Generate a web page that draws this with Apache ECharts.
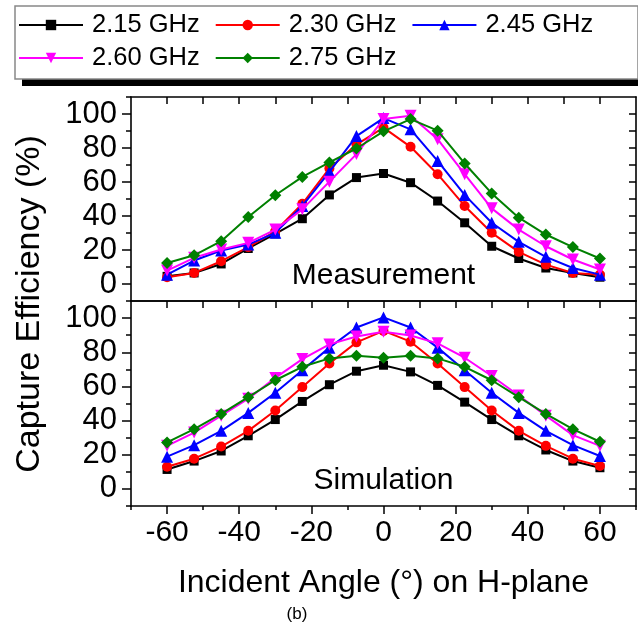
<!DOCTYPE html>
<html>
<head>
<meta charset="utf-8">
<script src="https://cdn.jsdelivr.net/npm/echarts@6/dist/echarts.min.js"></script>
<style>
html,body{margin:0;padding:0;background:#fff;}
#chart{width:638px;height:625px;}
</style>
</head>
<body>
<div id="chart"></div>
<script>
// ---- data ----
const angles = [-60,-52.5,-45,-37.5,-30,-22.5,-15,-7.5,0,7.5,15,22.5,30,37.5,45,52.5,60];
const seriesNames = ['2.15 GHz','2.30 GHz','2.45 GHz','2.60 GHz','2.75 GHz'];
const meas215 = [4.5,6.5,11.8,20.9,29.5,38.4,52.4,62.6,65,59.6,48.8,36,22.2,15,9.4,6.5,4];
const meas230 = [4,6.5,13.4,21.7,31,47.2,68,82,92,80.7,64.6,45.9,30.1,18.9,11.4,6.5,5.5];
const meas245 = [5.5,13.8,19.7,23.2,30.1,45.9,66,87,97.6,91,72.4,52.4,36,24.8,16,9.4,5.5];
const meas260 = [7.9,15.4,20.3,24.2,32,43.9,60.2,76.4,97,99,85.2,64.6,44.5,32,22.2,14.4,8.5];
const meas275 = [12.4,16.9,25.2,39.4,52.2,63,71.5,79.7,89.8,97,90.2,70.9,53.3,39,29.1,21.7,15];
const sim215 = [11.4,16.3,22.2,31.1,40.6,51.2,61,68.9,72.4,68.5,60.6,50.8,40.6,31.1,22.8,16.3,12.4];
const sim230 = [13,17.7,24.8,34,45.9,59.6,73.4,85.8,92.5,86.2,73.4,59.6,45.9,34,25.2,17.7,13.4];
const sim245 = [18.9,25.6,34,44.5,56.3,69.5,82.7,94.5,100.4,94.5,82.7,69.5,56.3,44.5,34,25.6,19.3];
const sim260 = [25.2,33,42.9,52.8,65,76,84.6,89.2,92,89.8,85.2,76.8,66.1,54.7,42.9,31.5,25.2];
const sim275 = [27.2,35,43.9,53.7,63.6,71.5,76.4,78,76.8,78,76.4,71.5,63.6,53.7,43.9,35,27.6];
const xMajorTicks = [-60,-40,-20,0,20,40,60];
const xMinorTicks = [-70,-50,-30,-10,10,30,50,70];
const xTopTicks = [-60,-50,-40,-30,-20,-10,0,10,20,30,40,50,60];
const yMajorTicks = [0,20,40,60,80,100];
const yMinorTicks = [-10,10,30,50,70,90,110];
const yRightTicks = [0,10,20,30,40,50,60,70,80,90,100];

const measSets = [meas215,meas230,meas245,meas260,meas275];
const simSets = [sim215,sim230,sim245,sim260,sim275];
const colors = ['#000000','#ff0000','#0000ff','#ff00ff','#008000'];
const symbols = ['rect','circle','triangle','triangle','diamond'];
const symRot = [0,0,0,180,0];
const symSizes = [9,10,12,12,12];

const FONT = "'Liberation Sans', Arial, sans-serif";
const BLACK = '#000';

function makeSeries(values, i, xIdx, yIdx, extra){
  const s = {
    name: seriesNames[i],
    type: 'line',
    xAxisIndex: xIdx,
    yAxisIndex: yIdx,
    data: angles.map((a,k)=>[a, values[k]]),
    symbol: symbols[i],
    symbolRotate: symRot[i],
    symbolSize: symSizes[i],
    showAllSymbol: true,
    lineStyle: {color: colors[i], width: 2},
    itemStyle: {color: colors[i]},
    emphasis: {disabled: true},
    animation: false,
    z: 3 + i
  };
  return Object.assign(s, extra || {});
}

function textMark(txt){
  return {
    symbolSize: 0,
    silent: true,
    label: {show: true, position: 'inside', formatter: txt, color: BLACK, fontSize: 30, fontFamily: FONT},
    data: [{coord: [0, 5]}]
  };
}

const series = [];
measSets.forEach((v,i)=>series.push(makeSeries(v,i,0,0, i===0 ? {markPoint: textMark('Measurement')} : null)));
simSets.forEach((v,i)=>series.push(makeSeries(v,i,2,3, i===0 ? {markPoint: textMark('Simulation')} : null)));

const axLine = {show: true, onZero: false, lineStyle: {color: BLACK, width: 1.6}};
const noLine = {show: false, onZero: false};
function xAx(grid, pos, opts){
  return Object.assign({
    type: 'value', gridIndex: grid, position: pos, min: -70, max: 70,
    splitLine: {show: false}, axisLine: noLine, axisLabel: {show: false}, axisTick: {show: false}
  }, opts);
}
function yAx(grid, pos, opts){
  return Object.assign({
    type: 'value', gridIndex: grid, position: pos, min: -10, max: 110,
    splitLine: {show: false}, axisLine: noLine, axisLabel: {show: false}, axisTick: {show: false}
  }, opts);
}
const tickStyle = {color: BLACK, width: 1.5};

const xAxis = [
  xAx(0,'bottom',{axisLine: axLine}),
  xAx(0,'top',{axisLine: axLine, axisTick: {show: true, inside: true, length: 7, customValues: xTopTicks, lineStyle: tickStyle}}),
  xAx(1,'bottom',{axisLine: axLine,
    axisTick: {show: true, length: 8, customValues: xMajorTicks, lineStyle: tickStyle},
    axisLabel: {show: true, customValues: xMajorTicks, fontSize: 30, fontFamily: FONT, color: BLACK, margin: 12},
    name: 'Incident Angle (°) on H-plane', nameLocation: 'middle', nameGap: 61,
    nameTextStyle: {fontSize: 32, fontFamily: FONT, color: BLACK}}),
  xAx(1,'bottom',{axisTick: {show: true, length: 4, customValues: xMinorTicks, lineStyle: tickStyle}}),
  xAx(1,'top',{axisLine: axLine, axisTick: {show: true, inside: true, length: 7, customValues: xTopTicks, lineStyle: tickStyle}})
];

function yGroup(grid){
  return [
    yAx(grid,'left',{axisLine: axLine,
      axisTick: {show: true, length: 9, customValues: yMajorTicks, lineStyle: tickStyle},
      axisLabel: {show: true, customValues: yMajorTicks, fontSize: 31, fontFamily: FONT, color: BLACK, margin: 14}}),
    yAx(grid,'left',{axisTick: {show: true, length: 5, customValues: yMinorTicks, lineStyle: tickStyle}}),
    yAx(grid,'right',{axisLine: axLine, axisTick: {show: true, inside: true, length: 7, customValues: yRightTicks, lineStyle: tickStyle}})
  ];
}
const yAxis = yGroup(0).concat(yGroup(1));

const legendCommon = {
  left: 18,
  padding: 0,
  itemGap: 15,
  itemWidth: 64, itemHeight: 13,
  selectedMode: false,
  textStyle: {fontSize: 25.5, fontFamily: FONT, color: BLACK, padding: [0,0,0,4]},
  z: 10
};

const option = {
  backgroundColor: '#fff',
  animation: false,
  textStyle: {fontFamily: FONT},
  grid: [
    {left: 131, right: 2, top: 97, height: 204},
    {left: 131, right: 2, top: 301, height: 205}
  ],
  xAxis: xAxis,
  yAxis: yAxis,
  legend: [
    Object.assign({data: seriesNames.slice(0,3), top: 12}, legendCommon),
    Object.assign({data: seriesNames.slice(3), top: 45}, legendCommon)
  ],
  graphic: [
    {type: 'rect', shape: {x: 22, y: 12, width: 620, height: 74}, style: {fill: '#000'}, z: 0, silent: true},
    {type: 'rect', shape: {x: 15, y: 6, width: 623, height: 73}, style: {fill: '#fff', stroke: '#888', lineWidth: 1.5}, z: 1, silent: true},
    {type: 'text', x: 30, y: 304, rotation: Math.PI/2, silent: true,
      style: {text: 'Capture Efficiency (%)', fontSize: 34, fontFamily: FONT, fill: BLACK, align: 'center', verticalAlign: 'middle'}},
    {type: 'text', x: 297, y: 614, silent: true,
      style: {text: '(b)', fontSize: 17, fontFamily: FONT, fill: BLACK, align: 'center', verticalAlign: 'middle'}}
  ],
  series: series
};

const chart = echarts.init(document.getElementById('chart'), null, {renderer: 'canvas'});
chart.setOption(option);
</script>
</body>
</html>
